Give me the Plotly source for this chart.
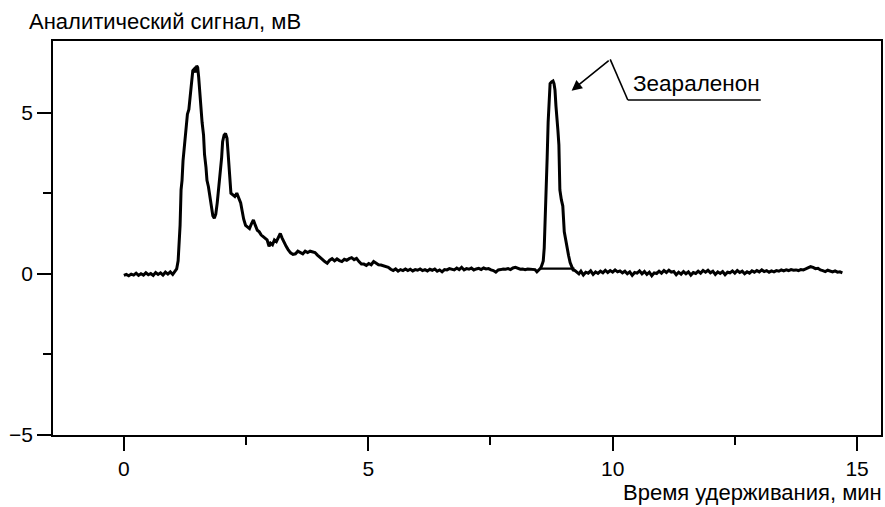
import plotly.graph_objects as go

# ---- data: chromatogram (retention time, min / signal, mV) ----
pre_t = [0.00, 0.05, 0.10, 0.15, 0.20, 0.25, 0.30, 0.35, 0.40, 0.45, 0.50, 0.55,
         0.60, 0.65, 0.70, 0.75, 0.80, 0.85, 0.90, 0.95, 1.00, 1.05]
pre_v = [-0.05, -0.02, -0.06, -0.01, -0.04, 0.02, -0.05, 0.00, -0.04, 0.03, -0.03, 0.01,
         -0.05, 0.04, -0.02, 0.03, -0.04, 0.05, -0.01, 0.06, -0.02, 0.08]

early_t = [1.08, 1.11, 1.13, 1.15, 1.17, 1.19, 1.21, 1.24, 1.27, 1.30, 1.33, 1.35,
           1.38, 1.41, 1.44, 1.47, 1.49, 1.51, 1.53, 1.55, 1.57, 1.60, 1.63, 1.65,
           1.68, 1.70, 1.73, 1.76, 1.79, 1.82, 1.85, 1.88, 1.91, 1.94, 1.97, 2.00,
           2.02, 2.05, 2.08, 2.11, 2.13, 2.15, 2.17, 2.19, 2.23, 2.27, 2.31, 2.35,
           2.39, 2.42, 2.45, 2.49, 2.53, 2.57, 2.61, 2.65, 2.69, 2.73, 2.77, 2.81,
           2.85, 2.89, 2.93, 2.97, 3.00, 3.04, 3.08, 3.12, 3.16, 3.20, 3.24, 3.28,
           3.32, 3.36, 3.41, 3.46, 3.51, 3.56, 3.61, 3.66, 3.71, 3.76, 3.81, 3.86,
           3.91, 3.96]
early_v = [0.15, 0.40, 1.00, 1.50, 2.60, 2.90, 3.50, 4.00, 4.70, 4.95, 5.10, 5.40,
           5.90, 6.30, 6.35, 6.25, 6.45, 6.40, 6.10, 5.60, 5.10, 4.70, 4.30, 3.70,
           3.30, 2.90, 2.70, 2.40, 2.10, 1.80, 1.72, 1.85, 2.20, 2.70, 2.95, 3.60,
           4.10, 4.30, 4.35, 4.20, 3.80, 3.30, 2.70, 2.50, 2.45, 2.40, 2.50, 2.35,
           2.20, 1.95, 1.70, 1.50, 1.45, 1.40, 1.55, 1.67, 1.50, 1.35, 1.30, 1.20,
           1.15, 1.10, 1.05, 0.85, 0.95, 0.90, 1.05, 1.00, 1.15, 1.25, 1.10, 0.95,
           0.85, 0.75, 0.65, 0.60, 0.62, 0.70, 0.66, 0.62, 0.70, 0.66, 0.70, 0.68,
           0.66, 0.58]

tail_t = [4.01, 4.06, 4.11, 4.16, 4.21, 4.26, 4.31, 4.36, 4.41, 4.46, 4.51, 4.56,
          4.61, 4.66, 4.71, 4.76, 4.81, 4.86, 4.91, 4.96, 5.01, 5.06, 5.11, 5.16,
          5.21, 5.26, 5.31, 5.36, 5.41, 5.46, 5.51, 5.56, 5.61, 5.66, 5.71, 5.76,
          5.81, 5.86, 5.91, 5.96, 6.01, 6.06, 6.11, 6.16, 6.21, 6.26, 6.31, 6.36,
          6.41, 6.46, 6.51, 6.56, 6.61, 6.66, 6.71, 6.76, 6.81, 6.86, 6.91, 6.96,
          7.01, 7.06, 7.11, 7.16, 7.21, 7.26, 7.31, 7.36, 7.41, 7.46, 7.51, 7.56,
          7.61, 7.66, 7.71, 7.76, 7.81, 7.86, 7.91, 7.96, 8.01, 8.06, 8.11, 8.16,
          8.21, 8.26, 8.31, 8.36, 8.41, 8.45, 8.49, 8.53]
tail_v = [0.50, 0.45, 0.38, 0.33, 0.42, 0.47, 0.40, 0.46, 0.41, 0.38, 0.45, 0.42,
          0.47, 0.50, 0.44, 0.48, 0.38, 0.30, 0.30, 0.26, 0.32, 0.28, 0.38, 0.32,
          0.28, 0.27, 0.24, 0.22, 0.20, 0.14, 0.10, 0.15, 0.08, 0.13, 0.10, 0.15,
          0.10, 0.14, 0.09, 0.13, 0.11, 0.15, 0.10, 0.13, 0.09, 0.14, 0.11, 0.15,
          0.08, 0.12, 0.06, 0.13, 0.12, 0.16, 0.14, 0.12, 0.18, 0.13, 0.20, 0.12,
          0.16, 0.14, 0.18, 0.12, 0.15, 0.17, 0.13, 0.18, 0.15, 0.16, 0.12, 0.10,
          0.05, 0.12, 0.13, 0.15, 0.14, 0.16, 0.13, 0.18, 0.20, 0.16, 0.14, 0.15,
          0.13, 0.15, 0.14, 0.14, 0.13, 0.06, 0.12, 0.18]

zea_t = [8.56, 8.58, 8.60, 8.62, 8.64, 8.66, 8.68, 8.70, 8.72, 8.75, 8.78, 8.80,
         8.82, 8.84, 8.86, 8.88, 8.90, 8.92, 8.95, 8.98, 9.01, 9.04, 9.07, 9.10,
         9.13, 9.16, 9.19, 9.23, 9.27, 9.31]
zea_v = [0.30, 0.40, 0.80, 1.60, 2.60, 3.60, 4.70, 5.50, 5.90, 5.95, 5.98, 5.90,
         5.70, 5.20, 4.60, 4.45, 4.00, 2.60, 2.30, 2.10, 1.30, 1.00, 0.75, 0.55,
         0.35, 0.22, 0.12, 0.10, 0.05, 0.00]

post_t = [9.35, 9.40, 9.45, 9.50, 9.55, 9.60, 9.65, 9.70, 9.75, 9.80, 9.85, 9.90,
          9.95, 10.00, 10.05, 10.10, 10.15, 10.20, 10.25, 10.30, 10.35, 10.40, 10.45, 10.50,
          10.55, 10.60, 10.65, 10.70, 10.75, 10.80, 10.85, 10.90, 10.95, 11.00, 11.05, 11.10,
          11.15, 11.20, 11.25, 11.30, 11.35, 11.40, 11.45, 11.50, 11.55, 11.60, 11.65, 11.70,
          11.75, 11.80, 11.85, 11.90, 11.95, 12.00, 12.05, 12.10, 12.15, 12.20, 12.25, 12.30,
          12.35, 12.40, 12.45, 12.50, 12.55, 12.60, 12.65, 12.70, 12.75, 12.80, 12.85, 12.90,
          12.95, 13.00, 13.05, 13.10, 13.15, 13.20, 13.25, 13.30, 13.35, 13.40, 13.45, 13.50,
          13.55, 13.60, 13.65, 13.70, 13.75, 13.80, 13.85, 13.90, 13.95, 14.00, 14.05, 14.10,
          14.15, 14.20, 14.25, 14.30, 14.35, 14.40, 14.45, 14.50, 14.55, 14.60, 14.65, 14.70]
post_v = [0.08, -0.04, 0.05, 0.02, 0.09, -0.02, 0.06, 0.01, 0.08, 0.03, 0.11, 0.04,
          0.10, 0.05, 0.12, 0.06, 0.09, 0.03, 0.08, 0.00, 0.06, -0.05, 0.04, 0.02,
          0.09, 0.00, 0.07, -0.02, 0.05, -0.06, 0.03, 0.01, 0.08, 0.02, 0.10, 0.04,
          0.11, 0.05, 0.07, -0.03, 0.05, -0.01, 0.07, 0.00, 0.06, -0.04, 0.04, 0.01,
          0.08, 0.02, 0.10, 0.05, 0.11, 0.03, 0.08, -0.02, 0.06, 0.01, 0.07, -0.03,
          0.05, 0.03, 0.09, 0.02, 0.10, 0.04, 0.08, 0.00, 0.06, 0.02, 0.09, 0.05,
          0.10, 0.06, 0.12, 0.07, 0.10, 0.05, 0.09, 0.06, 0.10, 0.08, 0.12, 0.09,
          0.12, 0.10, 0.13, 0.11, 0.12, 0.10, 0.13, 0.12, 0.15, 0.18, 0.22, 0.20,
          0.16, 0.17, 0.12, 0.10, 0.07, 0.11, 0.08, 0.06, 0.09, 0.05, 0.06, 0.03]

# integration baseline under the zearalenone peak
zea_base_t = [8.50, 9.22]
zea_base_v = [0.16, 0.16]

# axis ticks
x_ticks = [0, 5, 10, 15]
y_ticks = [-5, 0, 5]

y_title = "Аналитический сигнал, мВ"
x_title = "Время удерживания, мин"
peak_label = "Зеараленон"

time_min = pre_t + early_t + tail_t + zea_t + post_t
signal_mv = pre_v + early_v + tail_v + zea_v + post_v

FONT = "Liberation Sans, Arial, sans-serif"

fig = go.Figure()
fig.add_trace(go.Scatter(x=time_min, y=signal_mv, mode="lines",
                         line=dict(color="black", width=3), showlegend=False,
                         hoverinfo="skip"))
fig.add_trace(go.Scatter(x=zea_base_t, y=zea_base_v, mode="lines",
                         line=dict(color="black", width=2.4), showlegend=False,
                         hoverinfo="skip"))

axis_common = dict(showline=True, linecolor="black", linewidth=1.6, mirror=True,
                   showgrid=False, zeroline=False, ticks="outside", ticklen=14,
                   tickwidth=1.6, tickcolor="black", automargin=False,
                   tickfont=dict(family=FONT, size=21, color="black"))

fig.update_xaxes(range=[-1.45, 15.49], tickvals=x_ticks,
                 minor=dict(ticks="outside", ticklen=8, tickwidth=1.6,
                            tickcolor="black", dtick=2.5, tick0=0, showgrid=False),
                 **axis_common)
fig.update_yaxes(range=[-5.0, 7.22], tickvals=y_ticks,
                 tickformat="d",
                 minor=dict(ticks="outside", ticklen=8, tickwidth=1.6,
                            tickcolor="black", dtick=2.5, tick0=0, showgrid=False),
                 **axis_common)

plot_w = 885 - 53 - 4
plot_h = 507 - 41 - 72

# annotation: leader line with arrow to the zearalenone peak
fig.add_annotation(x=9.16, y=5.68, ax=9.95, ay=6.65, xref="x", yref="y",
                   axref="x", ayref="y", text="", showarrow=True,
                   arrowhead=2, arrowsize=1.3, arrowwidth=1.6, arrowcolor="black")
fig.add_shape(type="line", x0=9.95, y0=6.65, x1=10.31, y1=5.39,
              xref="x", yref="y", line=dict(color="black", width=1.6))
fig.add_shape(type="line", x0=10.31, y0=5.39, x1=13.03, y1=5.39,
              xref="x", yref="y", line=dict(color="black", width=1.6))
fig.add_annotation(x=10.38, y=5.44, xref="x", yref="y", text=peak_label,
                   showarrow=False, xanchor="left", yanchor="bottom",
                   font=dict(family=FONT, size=22.5, color="black"))

# axis titles
fig.add_annotation(x=(27 - 53) / plot_w, y=1 + (41 - 22) / plot_h,
                   xref="paper", yref="paper", text=y_title,
                   showarrow=False, xanchor="left", yanchor="middle",
                   font=dict(family=FONT, size=22, color="black"))
fig.add_annotation(x=(884 - 53) / plot_w, y=-(492 - 435) / plot_h,
                   xref="paper", yref="paper", text=x_title,
                   showarrow=False, xanchor="right", yanchor="middle",
                   font=dict(family=FONT, size=22, color="black"))

fig.update_layout(width=885, height=507, margin=dict(l=53, r=4, t=41, b=72),
                  plot_bgcolor="white", paper_bgcolor="white")

fig.write_html("out.html", config={"displayModeBar": False},
               post_script="document.body.style.margin='0';"
                           "document.body.style.overflow='hidden';")
